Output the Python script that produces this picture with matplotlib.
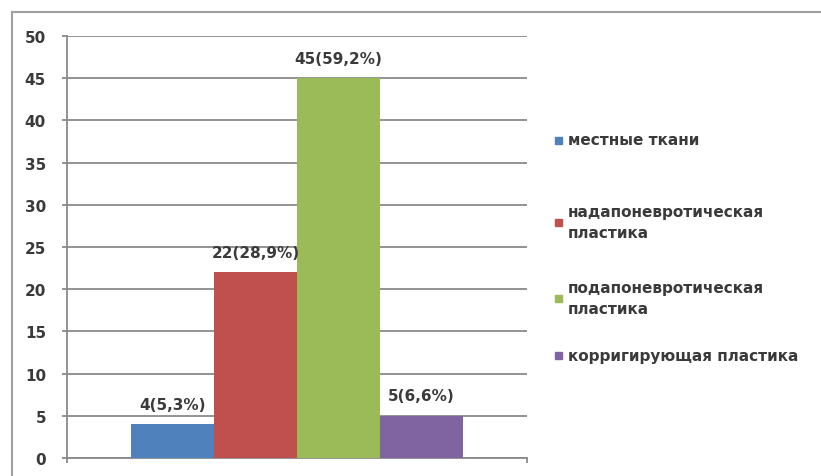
import numpy as np
import matplotlib.pyplot as plt
from matplotlib.patches import Rectangle

plt.rcParams['font.family'] = ['DejaVu Sans']

# data
series = ['местные ткани', 'надапоневротическая\nпластика',
          'подапоневротическая\nпластика', 'корригирующая пластика']
counts = [4, 22, 45, 5]
labels = ['4(5,3%)', '22(28,9%)', '45(59,2%)', '5(6,6%)']
colors = ['#4F81BD', '#C0504D', '#9BBB59', '#8064A2']

W, H = 821, 477
fig = plt.figure(figsize=(W / 100, H / 100), dpi=100)
txt_col = '#3A3A3A'

# outer chart frame
fig.patches.append(Rectangle((12 / W, -0.1), 1.0, 1.1 - 13 / H, transform=fig.transFigure,
                             fill=False, edgecolor='#A0A0A0', linewidth=1.5))

ax = fig.add_axes([67 / W, 1 - 459 / H, 460 / W, (459 - 37) / H])

bw = 0.18
n = len(counts)
xs = (np.arange(n) - (n - 1) / 2) * bw
bars = ax.bar(xs, counts, width=bw, color=colors, zorder=3)
for b, lab in zip(bars, labels):
    ax.annotate(lab, (b.get_x() + b.get_width() / 2, b.get_height()),
                xytext=(0, 9), textcoords='offset points', ha='center', va='bottom',
                fontsize=11, color=txt_col, fontweight='bold')

ax.set_xlim(-0.5, 0.5)
ax.set_ylim(0, 50)
ax.set_yticks(range(0, 51, 5))
ax.set_xticks([-0.5, 0.5])
ax.set_xticklabels([])
ax.grid(axis='y', color='#8A8A8A', linewidth=1.3, zorder=0)
for s in ['top', 'right']:
    ax.spines[s].set_visible(False)
for s in ['left', 'bottom']:
    ax.spines[s].set_color('#8A8A8A')
    ax.spines[s].set_linewidth(1.3)
ax.tick_params(axis='both', direction='out', length=3.6, width=1.3, color='#8A8A8A')
ax.tick_params(axis='y', pad=11.5, labelsize=11, labelcolor=txt_col)
for t in ax.get_yticklabels():
    t.set_fontweight('bold')

# legend entries
leg_y = [141, 223.5, 299.5, 356]
for name, c, y in zip(series, colors, leg_y):
    fig.patches.append(Rectangle((555 / W, 1 - (y + 3.5) / H), 7 / W, 7 / H,
                                 transform=fig.transFigure, color=c))
    fig.text(568 / W, 1 - y / H, name, ha='left', va='center', fontsize=11,
             color=txt_col, fontweight='bold', linespacing=1.5)

fig.savefig('out.png', dpi=100)
